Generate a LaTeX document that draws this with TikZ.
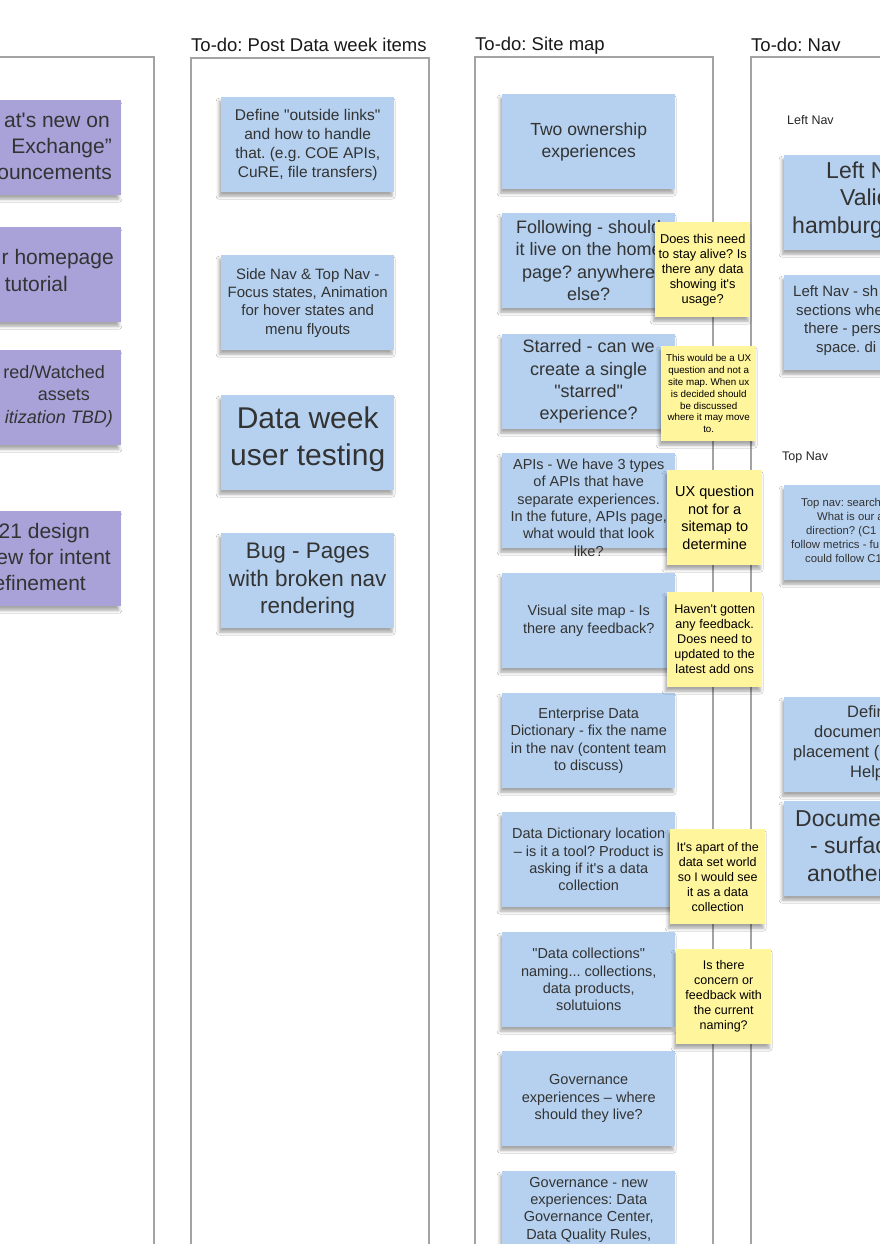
\documentclass[tikz,border=0pt]{standalone}
\usepackage{fontspec}
\setmainfont{Liberation Sans}[Ligatures=TeXOff]
\usetikzlibrary{positioning,calc,shadows.blur}
\definecolor{noteblue}{HTML}{B5D1EF}
\definecolor{notepurple}{HTML}{A8A2D9}
\definecolor{noteyellow}{HTML}{FFF59D}
\definecolor{panelline}{HTML}{A3A3A3}
\definecolor{inkgray}{HTML}{333333}
\newcommand{\sz}[2]{\fontsize{#1}{#2}\selectfont}
\newcommand{\hid}[1]{\hbox to #1pt{}}
\frenchspacing
\tikzset{
  panel/.style={draw=panelline, line width=1.3pt, fill=white},
  note/.style={minimum width=173pt, minimum height=95pt, inner sep=0pt, anchor=north west,
    blur shadow={shadow xshift=-2pt, shadow yshift=-4pt, shadow blur radius=3pt, shadow opacity=35}},
  bluenote/.style={note, fill=noteblue},
  purplenote/.style={note, fill=notepurple},
  stickynote/.style={note, fill=noteyellow, minimum width=95pt, minimum height=95pt},
  txt/.style={text=inkgray, align=center, inner sep=0pt},
  ytxt/.style={text=black, align=center, inner sep=0pt},
  coltitle/.style={text=black!90, inner sep=0pt, anchor=base west, font=\sz{18.5}{22}},
  sublabel/.style={text=black!85, inner sep=0pt, anchor=west, font=\sz{12.5}{15}}
}

\begin{document}
\begin{tikzpicture}[x=1pt,y=-1pt]
  \useasboundingbox (0,0) rectangle (880,1244);
  \fill[white] (0,0) rectangle (880,1244);
  \clip (0,0) rectangle (880,1244);

  % columns
  \draw[panel] (-20,57) rectangle (154,1270);
  \draw[panel] (191,58) rectangle (429,1270);
  \draw[panel] (475,57) rectangle (713,1270);
  \draw[panel] (751,57) rectangle (900,1270);
  \node[coltitle] (t2) at (191,52) {To-do: Post Data week items};
  \node[coltitle] (t3) at (475,51) {To-do: Site map};
  \node[coltitle] (t4) at (751,52) {To-do: Nav};

  % first column (cut at the left)
  \node[purplenote, anchor=north east] (p1) at (121,100) {};
  \node[txt, align=right, anchor=east, font=\sz{21}{26}] (p1t) at (112,146) {at's new on\hid{2}\\Exchange”\\ouncements};
  \node[purplenote, anchor=north east] (p2) at (121,227) {};
  \node[txt, align=right, anchor=east, font=\sz{21}{27}] (p2t) at (114,270.5) {r homepage\\tutorial\hid{46}};
  \node[purplenote, anchor=north east] (p3) at (121,350) {};
  \node[txt, align=right, anchor=east, font=\sz{18}{22.5}] (p3t) at (113,396) {red/Watched\hid{8}\\assets\hid{23}\\\textit{itization TBD)}};
  \node[purplenote, anchor=north east] (p4) at (121,511) {};
  \node[txt, align=right, anchor=east, font=\sz{21}{26}] (p4t) at (111,557) {21 design\hid{21}\\ew for intent\\efinement\hid{25}};

  % post data week
  \node[bluenote] (n1) at (221,97) {};
  \node[txt, font=\sz{15.5}{19}] (n1t) at (n1) {Define "outside links"\\and how to handle\\that. (e.g. COE APIs,\\CuRE, file transfers)};
  \node[bluenote] (n2) at (221,255) {};
  \node[txt, font=\sz{15}{18.3}] (n2t) at (n2) {Side Nav \& Top Nav -\\Focus states, Animation\\for hover states and\\menu flyouts};
  \node[bluenote] (n3) at (221,395) {};
  \node[txt, font=\sz{30}{37}] (n3t) at ($(n3)+(0,-3)$) {Data week\\user testing};
  \node[bluenote] (n4) at (221,533) {};
  \node[txt, font=\sz{22.5}{27.5}] (n4t) at (n4) {Bug - Pages\\with broken nav\\rendering};

  % site map
  \node[bluenote] (s1) at (502,94) {};
  \node[txt, font=\sz{17.5}{22}] (s1t) at (s1) {Two ownership\\experiences};
  \node[bluenote] (s2) at (502,213) {};
  \node[txt, font=\sz{18}{22.3}] (s2t) at (s2) {Following - should\\it live on the home\\page? anywhere\\else?};
  \node[bluenote] (s3) at (502,334) {};
  \node[txt, font=\sz{18}{22.3}] (s3t) at (s3) {Starred - can we\\create a single\\"starred"\\experience?};
  \node[bluenote] (s4) at (502,453) {};
  \node[txt, font=\sz{14.5}{17.3}] (s4t) at ($(s4)+(0,7)$) {APIs - We have 3 types\\of APIs that have\\separate experiences.\\In the future, APIs page,\\what would that look\\like?};
  \node[bluenote] (s5) at (502,573) {};
  \node[txt, font=\sz{14.5}{17.3}] (s5t) at (s5) {Visual site map - Is\\there any feedback?};
  \node[bluenote] (s6) at (502,693) {};
  \node[txt, font=\sz{14.5}{17.3}] (s6t) at (s6) {Enterprise Data\\Dictionary - fix the name\\in the nav (content team\\to discuss)};
  \node[bluenote] (s7) at (502,812) {};
  \node[txt, font=\sz{14.5}{17.3}] (s7t) at (s7) {Data Dictionary location\\– is it a tool? Product is\\asking if it's a data\\collection};
  \node[bluenote] (s8) at (502,932) {};
  \node[txt, font=\sz{14.5}{17.3}] (s8t) at (s8) {"Data collections"\\naming... collections,\\data products,\\solutuions};
  \node[bluenote] (s9) at (502,1051) {};
  \node[txt, font=\sz{14.5}{17.3}] (s9t) at (s9) {Governance\\experiences – where\\should they live?};
  \node[bluenote] (s10) at (502,1171) {};
  \node[txt, font=\sz{14.5}{17.3}, anchor=north] (s10t) at ($(s10.north)+(0,6)$) {Governance - new\\experiences: Data\\Governance Center,\\Data Quality Rules,};

  % comments on the site map
  \node[stickynote] (y1) at (655,222) {};
  \node[ytxt, font=\sz{12.8}{15}] (y1t) at (y1) {Does this need\\to stay alive? Is\\there any data\\showing it's\\usage?};
  \node[stickynote] (y2) at (661,346) {};
  \node[ytxt, font=\sz{9.8}{11.8}] (y2t) at (y2) {This would be a UX\\question and not a\\site map. When ux\\is decided should\\be discussed\\where it may move\\to.};
  \node[stickynote] (y3) at (667,470) {};
  \node[ytxt, font=\sz{14.5}{17.5}] (y3t) at (y3) {UX question\\not for a\\sitemap to\\determine};
  \node[stickynote] (y4) at (667,592) {};
  \node[ytxt, font=\sz{12.6}{15}] (y4t) at (y4) {Haven't gotten\\any feedback.\\Does need to\\updated to the\\latest add ons};
  \node[stickynote] (y5) at (670,829) {};
  \node[ytxt, font=\sz{12.5}{15}] (y5t) at (y5) {It's apart of the\\data set world\\so I would see\\it as a data\\collection};
  \node[stickynote] (y6) at (676,949) {};
  \node[ytxt, font=\sz{12.5}{15}] (y6t) at (y6) {Is there\\concern or\\feedback with\\the current\\naming?};

  % nav (cut at the right)
  \node[sublabel] (leftnav) at (787,120) {Left Nav};
  \node[bluenote] (l1) at (784,155) {};
  \node[txt, align=left, anchor=west, font=\sz{23}{27.5}] (l1t) at (792,200) {\hid{34}Left N\\\hid{48}Valid\\hamburg};
  \node[bluenote] (l2) at (784,275) {};
  \node[txt, align=left, anchor=west, font=\sz{15}{18.5}] (l2t) at (793,320.5) {Left Nav - sh\\\hid{3}sections whe\\\hid{11}there - pers\\\hid{23}space. di};
  \node[sublabel] (topnav) at (782,457) {Top Nav};
  \node[bluenote] (tn) at (784,485) {};
  \node[txt, align=left, anchor=west, font=\sz{11.3}{13.8}] (tnt) at (791,530.5) {\hid{10}Top nav: search\\\hid{26}What is our a\\\hid{15}direction? (C1\\follow metrics - fu\\\hid{14}could follow C1};
  \node[bluenote] (d1) at (784,697) {};
  \node[txt, align=left, anchor=west, font=\sz{16.5}{20}] (d1t) at (793,743) {\hid{54}Defin\\\hid{21}documen\\placement (\\\hid{57}Help};
  \node[bluenote] (d2) at (784,801) {};
  \node[txt, align=left, anchor=west, font=\sz{23}{27.5}] (d2t) at (795,846) {Docume\\\hid{15}- surfac\\\hid{12}another};
\end{tikzpicture}
\end{document}
